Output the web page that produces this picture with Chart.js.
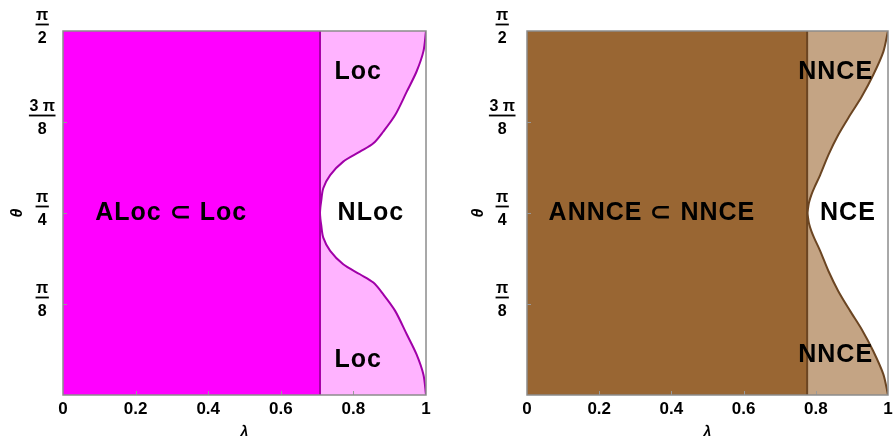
<!DOCTYPE html>
<html>
<head>
<meta charset="utf-8">
<script src="https://cdn.jsdelivr.net/npm/chart.js@4.4.1/dist/chart.umd.min.js"></script>
<style>
  body { margin: 0; background: #fff; }
  canvas { position: absolute; top: 0; }
  #loc { left: 0; }
  #nnce { left: 447px; }
</style>
</head>
<body>
<canvas id="loc" width="447" height="443"></canvas>
<canvas id="nnce" width="447" height="443"></canvas>
<script>
const HALF_PI = Math.PI / 2;
const FONT = "'Liberation Sans', Arial, sans-serif";

// axes
const xTicks = [0, 0.2, 0.4, 0.6, 0.8, 1];
const xTickLabels = ["0", "0.2", "0.4", "0.6", "0.8", "1"];
const yTicks = [0, Math.PI / 8, Math.PI / 4, 3 * Math.PI / 8, Math.PI / 2];
const yTickLabels = ["", ["π", "8"], ["π", "4"], ["3 π", "8"], ["π", "2"]];

// left panel: ALoc / Loc / NLoc
const locEdge = 0.708;
const locUpperLambda = [0.708, 0.709, 0.711, 0.717, 0.736, 0.772, 0.818, 0.855, 0.882, 0.915, 0.947, 0.974, 0.993, 1.0];
const locUpperTheta  = [0.785, 0.81, 0.834, 0.892, 0.949, 1.007, 1.050, 1.086, 1.136, 1.208, 1.309, 1.396, 1.484, 1.571];
const locLowerLambda = [0.708, 0.709, 0.711, 0.717, 0.736, 0.772, 0.818, 0.855, 0.882, 0.915, 0.947, 0.974, 0.993, 1.0];
const locLowerTheta  = [0.785, 0.761, 0.737, 0.679, 0.622, 0.564, 0.521, 0.485, 0.435, 0.363, 0.262, 0.175, 0.087, 0.0];

// right panel: ANNCE / NNCE / NCE
const nnceEdge = 0.776;
const nnceUpperLambda = [0.777, 0.778, 0.781, 0.788, 0.796, 0.812, 0.835, 0.862, 0.895, 0.927, 0.959, 0.987, 1.0];
const nnceUpperTheta  = [0.785, 0.80, 0.83, 0.865, 0.895, 0.949, 1.036, 1.122, 1.208, 1.287, 1.381, 1.481, 1.571];
const nnceLowerLambda = [0.777, 0.778, 0.781, 0.788, 0.796, 0.812, 0.835, 0.862, 0.895, 0.927, 0.959, 0.987, 1.0];
const nnceLowerTheta  = [0.785, 0.771, 0.741, 0.706, 0.676, 0.622, 0.535, 0.449, 0.363, 0.284, 0.190, 0.090, 0.0];

const locLabels = [
  { text: "ALoc ⊂ Loc", x: 0.298, y: 0.785 },
  { text: "Loc", x: 0.813, y: 1.395 },
  { text: "NLoc", x: 0.848, y: 0.785 },
  { text: "Loc", x: 0.813, y: 0.15 },
];
const nnceLabels = [
  { text: "ANNCE ⊂ NNCE", x: 0.346, y: 0.785 },
  { text: "NNCE", x: 0.855, y: 1.395 },
  { text: "NCE", x: 0.889, y: 0.785 },
  { text: "NNCE", x: 0.855, y: 0.17 },
];

function pts(xs, ys) {
  return xs.map((x, i) => ({ x: x, y: ys[i] }));
}

// frame around the plot area, with small inner tick marks
const frame = {
  id: "frame",
  afterDatasetsDraw(chart) {
    const { ctx, chartArea: a, scales: { x, y } } = chart;
    ctx.save();
    ctx.strokeStyle = "#9a9a9a";
    ctx.lineWidth = 1;
    ctx.beginPath();
    xTicks.slice(1, -1).forEach((v) => {
      const px = Math.round(x.getPixelForValue(v)) + 0.5;
      ctx.moveTo(px, a.bottom);
      ctx.lineTo(px, a.bottom - 4);
    });
    yTicks.slice(1, -1).forEach((v) => {
      const py = Math.round(y.getPixelForValue(v)) + 0.5;
      ctx.moveTo(a.left, py);
      ctx.lineTo(a.left + 4, py);
    });
    ctx.stroke();
    ctx.strokeStyle = "#8c8c8c";
    ctx.lineWidth = 1.5;
    ctx.strokeRect(a.left, a.top, a.right - a.left, a.bottom - a.top);
    ctx.restore();
  },
};

// text labels inside the regions
const regionLabels = {
  id: "regionLabels",
  afterDatasetsDraw(chart, args, opts) {
    const { ctx, scales: { x, y } } = chart;
    ctx.save();
    ctx.font = "bold 25px " + FONT;
    ctx.letterSpacing = "1px";
    ctx.textAlign = "center";
    ctx.textBaseline = "middle";
    ctx.fillStyle = "#000";
    opts.items.forEach((it) => {
      ctx.fillText(it.text, x.getPixelForValue(it.x), y.getPixelForValue(it.y));
    });
    ctx.restore();
  },
};

// bars under the numerators of the pi fractions
const fractionBars = {
  id: "fractionBars",
  afterDraw(chart) {
    const s = chart.scales.y;
    const t = s.options.ticks;
    const ctx = chart.ctx;
    ctx.save();
    ctx.font = "bold 16px " + FONT;
    let widest = 0;
    yTickLabels.forEach((l) => {
      [].concat(l).forEach((txt) => { widest = Math.max(widest, ctx.measureText(txt).width); });
    });
    const cx = s.right - s.options.grid.tickLength - t.padding - widest / 2;
    ctx.strokeStyle = "#000";
    ctx.lineWidth = 1.8;
    yTicks.forEach((v, i) => {
      const l = yTickLabels[i];
      if (!Array.isArray(l)) return;
      const w = ctx.measureText(l[0]).width + 1;
      const py = Math.round(s.getPixelForValue(v) + t.labelOffset) - 2.5;
      ctx.beginPath();
      ctx.moveTo(cx - w / 2, py);
      ctx.lineTo(cx + w / 2, py);
      ctx.stroke();
    });
    ctx.restore();
  },
};

function createPhaseChart(canvas, cfg) {
  const curve = pts(cfg.lowerLambda, cfg.lowerTheta).reverse()
    .concat(pts(cfg.upperLambda, cfg.upperTheta).slice(1));
  return new Chart(canvas, {
    type: "scatter",
    data: {
      datasets: [
        {
          data: [{ x: cfg.edge, y: HALF_PI }, { x: 1, y: HALF_PI }],
          showLine: true, fill: "origin", backgroundColor: cfg.light,
          borderWidth: 0, pointRadius: 0, order: 5,
        },
        {
          data: [{ x: 0, y: HALF_PI }, { x: cfg.edge, y: HALF_PI }],
          showLine: true, fill: "origin", backgroundColor: cfg.dark,
          borderWidth: 0, pointRadius: 0, order: 4,
        },
        {
          data: pts(cfg.upperLambda, cfg.upperTheta),
          showLine: true, fill: "+1", backgroundColor: "#ffffff",
          borderWidth: 0, tension: 0.3, pointRadius: 0, order: 3,
        },
        {
          data: pts(cfg.lowerLambda, cfg.lowerTheta),
          showLine: true, fill: false,
          borderWidth: 0, tension: 0.3, pointRadius: 0, order: 2,
        },
        {
          data: curve,
          showLine: true, fill: false,
          borderColor: cfg.line, borderWidth: 2, tension: 0.3, pointRadius: 0, order: 1,
        },
        {
          data: [{ x: cfg.edge, y: 0 }, { x: cfg.edge, y: HALF_PI }],
          showLine: true, fill: false,
          borderColor: cfg.edgeColor, borderWidth: 2, pointRadius: 0, order: 0,
        },
      ],
    },
    options: {
      responsive: false,
      animation: false,
      devicePixelRatio: 1,
      events: [],
      layout: { padding: { top: 31, right: cfg.padRight, bottom: 0, left: 0 } },
      plugins: {
        legend: { display: false },
        tooltip: { enabled: false },
        regionLabels: { items: cfg.labels },
      },
      scales: {
        x: {
          type: "linear", min: 0, max: 1,
          afterBuildTicks: (s) => { s.ticks = xTicks.map((v) => ({ value: v })); },
          afterFit: (s) => { s.height = 48; },
          ticks: {
            callback: (v, i) => xTickLabels[i],
            color: "#000", padding: 0, maxRotation: 0, autoSkip: false,
            font: { family: FONT, size: 17, weight: "bold" },
          },
          grid: { display: false, drawTicks: true, tickLength: 4 },
          border: { display: false },
          title: {
            display: true, text: "λ", color: "#000",
            font: { family: FONT, size: 14, weight: "bold", style: "italic" },
            padding: { top: 0, bottom: 2 },
          },
        },
        y: {
          type: "linear", min: 0, max: HALF_PI,
          afterBuildTicks: (s) => { s.ticks = yTicks.map((v) => ({ value: v })); },
          afterFit: (s) => { s.width = cfg.axisWidth; },
          ticks: {
            callback: (v, i) => yTickLabels[i],
            color: "#000", padding: 3, labelOffset: -4, crossAlign: "center", autoSkip: false,
            font: { family: FONT, size: 16, weight: "bold", lineHeight: 1.4 },
          },
          grid: { display: false, drawTicks: true, tickLength: cfg.tickGap },
          border: { display: false },
          title: {
            display: true, text: "θ", color: "#000",
            font: { family: FONT, size: 16, weight: "bold", style: "italic" },
            padding: { top: cfg.titlePad, bottom: 0 },
          },
        },
      },
    },
    plugins: [frame, regionLabels, fractionBars],
  });
}

createPhaseChart(document.querySelector("#loc"), {
  edge: locEdge,
  upperLambda: locUpperLambda, upperTheta: locUpperTheta,
  lowerLambda: locLowerLambda, lowerTheta: locLowerTheta,
  dark: "#ff00ff", light: "#ffb3ff", line: "#a000a8", edgeColor: "#a800a8",
  labels: locLabels,
  axisWidth: 63, tickGap: 5, titlePad: 8, padRight: 21,
});

createPhaseChart(document.querySelector("#nnce"), {
  edge: nnceEdge,
  upperLambda: nnceUpperLambda, upperTheta: nnceUpperTheta,
  lowerLambda: nnceLowerLambda, lowerTheta: nnceLowerTheta,
  dark: "#996633", light: "#c4a484", line: "#6b4522", edgeColor: "#6b4522",
  labels: nnceLabels,
  axisWidth: 80, tickGap: 9, titlePad: 22, padRight: 6,
});
</script>
</body>
</html>
